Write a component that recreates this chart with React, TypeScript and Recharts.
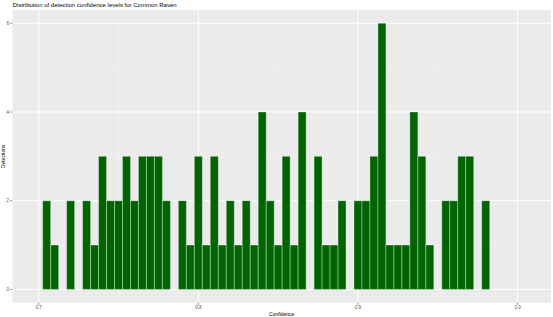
import { BarChart, Bar, XAxis, YAxis, CartesianGrid } from 'recharts';

const binCenters = [
  0.705, 0.71, 0.715, 0.72, 0.725, 0.73, 0.735, 0.74, 0.745, 0.75, 0.755, 0.76, 0.765, 0.77,
  0.775, 0.78, 0.785, 0.79, 0.795, 0.8, 0.805, 0.81, 0.815, 0.82, 0.825, 0.83, 0.835, 0.84,
  0.845, 0.85, 0.855, 0.86, 0.865, 0.87, 0.875, 0.88, 0.885, 0.89, 0.895, 0.9, 0.905, 0.91,
  0.915, 0.92, 0.925, 0.93, 0.935, 0.94, 0.945, 0.95, 0.955, 0.96, 0.965, 0.97, 0.975, 0.98,
];

const detections = [
  2, 1, 0, 2, 0, 2, 1, 3, 2, 2, 3, 2, 3, 3,
  3, 2, 0, 2, 1, 3, 1, 3, 1, 2, 1, 2, 1, 4,
  2, 1, 3, 1, 4, 0, 3, 1, 1, 2, 0, 2, 2, 3,
  6, 1, 1, 1, 4, 3, 1, 0, 2, 2, 3, 3, 0, 2,
];

const xTicks = [0.7, 0.8, 0.9, 1.0];
const xMinor = [0.75, 0.85, 0.95];
const yTicks = [0, 2, 4, 6];
const yMinor = [1, 3, 5];

const data = binCenters.map((x, i) => ({ x, count: detections[i] }));

const tickStyle = { fontSize: 4.5, fill: '#4d4d4d', fontFamily: 'Liberation Sans, Arial, sans-serif' };
const labelStyle = { fontSize: 5, fill: '#000', fontFamily: 'Liberation Sans, Arial, sans-serif' };

export default function App() {
  return (
    <div style={{ position: 'relative', width: 553, height: 317, background: '#fff' }}>
      <style>{'body{margin:0;}'}</style>
      <div
        style={{
          position: 'absolute',
          left: 12.5,
          top: 2,
          fontSize: 6,
          lineHeight: '7px',
          fontFamily: 'Liberation Sans, Arial, sans-serif',
          color: '#000',
        }}
      >
        Distribution of detection confidence levels for Common Raven
      </div>
      <BarChart
        width={553}
        height={317}
        data={data}
        margin={{ top: 10, right: 2, bottom: 0, left: 0 }}
        barCategoryGap={0}
        barGap={0}
      >
        <CartesianGrid
          fill="#ebebeb"
          stroke="#f5f5f5"
          strokeWidth={0.6}
          horizontalValues={yMinor}
          verticalValues={xMinor}
        />
        <CartesianGrid
          stroke="#ffffff"
          strokeWidth={1}
          horizontalValues={yTicks}
          verticalValues={xTicks}
        />
        <XAxis
          dataKey="x"
          type="number"
          domain={[0.6836, 1.0209]}
          ticks={xTicks}
          tickFormatter={(v: number) => v.toFixed(1)}
          allowDataOverflow
          axisLine={false}
          tickSize={2.5}
          tickMargin={0.5}
          tickLine={{ stroke: '#333333', strokeWidth: 0.5 }}
          tick={tickStyle}
          height={14.3}
          label={{ value: 'Confidence', position: 'insideBottom', offset: 1.5, style: labelStyle }}
        />
        <YAxis
          type="number"
          domain={[-0.3, 6.3]}
          ticks={yTicks}
          allowDataOverflow
          axisLine={false}
          tickSize={2.5}
          tickMargin={1}
          tickLine={{ stroke: '#333333', strokeWidth: 0.5 }}
          tick={tickStyle}
          width={12.5}
          label={{
            value: 'Detections',
            angle: -90,
            position: 'insideLeft',
            offset: 3,
            style: { ...labelStyle, textAnchor: 'middle' },
          }}
        />
        <Bar
          dataKey="count"
          fill="#006400"
          stroke="#ffffff"
          strokeOpacity={0.7}
          strokeWidth={0.5}
          isAnimationActive={false}
        />
      </BarChart>
    </div>
  );
}
